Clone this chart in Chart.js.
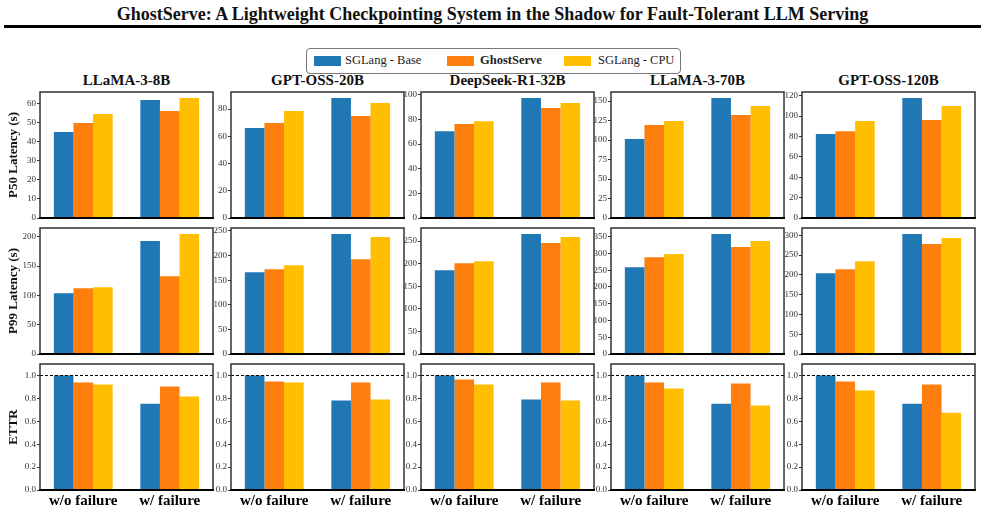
<!DOCTYPE html>
<html>
<head>
<meta charset="utf-8">
<script src="https://cdn.jsdelivr.net/npm/chart.js@4.4.1/dist/chart.umd.min.js"></script>
<style>
  body { margin: 0; background: #fff; width: 985px; height: 521px; position: relative; overflow: hidden; }
  .abs { position: absolute; }
  canvas { position: absolute; }
  #title { left: 0; width: 985px; top: 4px; text-align: center; font: bold 18px "Liberation Serif", serif; color: #111; }
  #rule { left: 4px; width: 977px; top: 25px; height: 0; border-top: 3px solid #000; }
  #legend { left: 306px; top: 48px; width: 373px; height: 24px; border: 1px solid #777; border-radius: 4px; }
  .sw { position: absolute; width: 27px; height: 10px; top: 56px; }
  .lt { position: absolute; top: 53px; font: 12.5px "Liberation Serif", serif; color: #222; }
  .coltitle { position: absolute; top: 72px; width: 173px; text-align: center; font: bold 15px "Liberation Serif", serif; color: #111; }
  .ylab { position: absolute; width: 130px; text-align: center; font: bold 13px "Liberation Serif", serif; color: #111; transform: rotate(-90deg); transform-origin: center center; }
</style>
</head>
<body>
<div id="title" class="abs">GhostServe: A Lightweight Checkpointing System in the Shadow for Fault-Tolerant LLM Serving</div>
<div id="rule" class="abs"></div>
<div id="legend" class="abs"></div>
<div class="sw" style="left:314px;background:#1f77b4"></div>
<div class="lt" style="left:345px">SGLang - Base</div>
<div class="sw" style="left:447px;background:#ff7f0e"></div>
<div class="lt" style="left:480px;font-weight:bold">GhostServe</div>
<div class="sw" style="left:564px;background:#ffbe00"></div>
<div class="lt" style="left:598px">SGLang - CPU</div>

<script>
const models = ['LLaMA-3-8B', 'GPT-OSS-20B', 'DeepSeek-R1-32B', 'LLaMA-3-70B', 'GPT-OSS-120B'];
const scenarios = ['w/o failure', 'w/ failure'];
const systems = ['SGLang - Base', 'GhostServe', 'SGLang - CPU'];
const colors = ['#1f77b4', '#ff7f0e', '#ffbe00'];
const rowLabels = ['P50 Latency (s)', 'P99 Latency (s)', 'ETTR'];

// [w/o failure, w/ failure] per model
const p50Base  = [[44.9, 61.6], [66.0, 88.1], [70.5, 97.4], [101.2, 153.9], [82.3, 117.7]];
const p50Ghost = [[49.6, 55.9], [69.7, 74.8], [76.2, 89.2], [119.2, 132.1], [85.2, 96.1]];
const p50Cpu   = [[54.3, 62.7], [78.5, 84.4], [78.6, 93.3], [124.4, 143.7], [95.1, 109.8]];

const p99Base  = [[103.4, 192.6], [166.2, 243.9], [185.5, 265.6], [259, 358], [204.2, 303.4]];
const p99Ghost = [[112.0, 132.6], [172.3, 192.8], [201.0, 245.5], [289, 319], [214.4, 278.0]];
const p99Cpu   = [[113.7, 204.6], [180.5, 237.7], [205.5, 259.0], [298, 337], [234.7, 293.2]];

const ettrBase  = [[1.0, 0.754], [1.0, 0.781], [1.0, 0.789], [1.0, 0.754], [1.0, 0.754]];
const ettrGhost = [[0.939, 0.904], [0.947, 0.939], [0.965, 0.939], [0.939, 0.930], [0.947, 0.921]];
const ettrCpu   = [[0.921, 0.816], [0.939, 0.789], [0.921, 0.781], [0.886, 0.737], [0.868, 0.675]];

const p50Ticks = [[0, 10, 20, 30, 40, 50, 60], [0, 20, 40, 60, 80], [0, 20, 40, 60, 80, 100],
                  [0, 25, 50, 75, 100, 125, 150], [0, 20, 40, 60, 80, 100, 120]];
const p99Ticks = [[0, 50, 100, 150, 200], [0, 50, 100, 150, 200, 250], [0, 50, 100, 150, 200, 250],
                  [0, 50, 100, 150, 200, 250, 300, 350], [0, 50, 100, 150, 200, 250, 300]];
const ettrTicks = [0, 0.2, 0.4, 0.6, 0.8, 1.0];

const colLeft = [40, 231, 421, 611, 802];
const rowTop = [92, 228, 364];
const plotW = 173, plotH = 126, yAxisW = 40;

// box around the plot + optional dashed reference line
const framePlugin = {
    id: 'frame',
    afterDatasetsDraw(chart, args, opts) {
        const {ctx, chartArea: a} = chart;
        ctx.save();
        if (opts.refLine != null) {
            const y = Math.round(chart.scales.y.getPixelForValue(opts.refLine)) + 0.5;
            ctx.setLineDash([3, 2]);
            ctx.strokeStyle = '#000';
            ctx.lineWidth = 1;
            ctx.beginPath();
            ctx.moveTo(a.left, y);
            ctx.lineTo(a.right, y);
            ctx.stroke();
            ctx.setLineDash([]);
        }
        ctx.strokeStyle = '#333';
        ctx.lineWidth = 1.5;
        ctx.strokeRect(a.left, a.top, a.right - a.left, a.bottom - a.top);
        ctx.strokeStyle = '#000';
        ctx.lineWidth = 2;
        ctx.beginPath();
        ctx.moveTo(a.left - 1, a.bottom);
        ctx.lineTo(a.right + 1, a.bottom);
        ctx.stroke();
        ctx.restore();
    }
};

function makePanel(row, col, series, ticks, yMax, isEttr) {
    const bottomRow = row === 2;
    const canvas = document.createElement('canvas');
    const w = yAxisW + plotW + 6;
    const h = 8 + plotH + (bottomRow ? 28 : 8);
    canvas.width = w;
    canvas.height = h;
    canvas.style.left = (colLeft[col] - yAxisW) + 'px';
    canvas.style.top = (rowTop[row] - 8) + 'px';
    document.body.appendChild(canvas);

    new Chart(canvas.getContext('2d'), {
        type: 'bar',
        data: {
            labels: scenarios,
            datasets: systems.map((name, i) => ({
                label: name,
                data: series[i],
                backgroundColor: colors[i],
                borderWidth: 0,
                categoryPercentage: 0.68,
                barPercentage: 1.0
            }))
        },
        options: {
            responsive: false,
            animation: false,
            events: [],
            layout: { padding: { top: 8, right: 6, bottom: bottomRow ? 0 : 8, left: 0 } },
            scales: {
                x: {
                    border: { display: false },
                    grid: { display: false, drawTicks: false },
                    ticks: {
                        display: bottomRow,
                        color: '#000',
                        padding: 2,
                        font: { family: '"Liberation Serif", serif', weight: 'bold', size: 15 }
                    },
                    afterFit: axis => { axis.height = bottomRow ? 28 : 0; }
                },
                y: {
                    min: 0,
                    max: yMax,
                    border: { display: false },
                    grid: { drawOnChartArea: false, drawTicks: true, tickLength: 3, color: '#333' },
                    ticks: {
                        color: '#333',
                        padding: 1,
                        font: { family: '"Liberation Serif", serif', size: 9 },
                        callback: v => isEttr ? Number(v).toFixed(1) : String(v)
                    },
                    afterBuildTicks: axis => { axis.ticks = ticks.map(v => ({ value: v })); },
                    afterFit: axis => { axis.width = yAxisW; }
                }
            },
            plugins: {
                legend: { display: false },
                tooltip: { enabled: false },
                frame: { refLine: isEttr ? 1.0 : null }
            }
        },
        plugins: [framePlugin]
    });
}

models.forEach((m, c) => {
    const t = document.createElement('div');
    t.className = 'coltitle';
    t.style.left = colLeft[c] + 'px';
    t.textContent = m;
    document.body.appendChild(t);

    const p50 = [p50Base[c], p50Ghost[c], p50Cpu[c]];
    const p99 = [p99Base[c], p99Ghost[c], p99Cpu[c]];
    const ettr = [ettrBase[c], ettrGhost[c], ettrCpu[c]];
    makePanel(0, c, p50, p50Ticks[c], Math.max(...p50.flat()) * 1.05, false);
    makePanel(1, c, p99, p99Ticks[c], Math.max(...p99.flat()) * 1.05, false);
    makePanel(2, c, ettr, ettrTicks, 1.1, true);
});

rowLabels.forEach((txt, r) => {
    const d = document.createElement('div');
    d.className = 'ylab';
    d.textContent = txt;
    d.style.left = (13 - 65) + 'px';
    d.style.top = (rowTop[r] + plotH / 2 - 8) + 'px';
    document.body.appendChild(d);
});
</script>
</body>
</html>
